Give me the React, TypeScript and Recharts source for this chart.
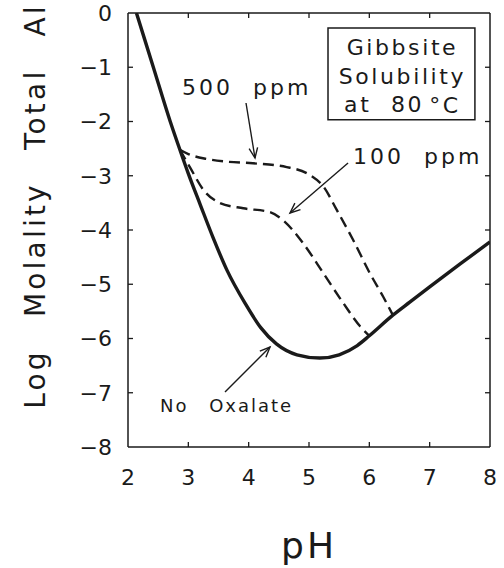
import React from 'react';
import {
  LineChart,
  Line,
  XAxis,
  YAxis,
  Label,
  ReferenceLine,
  ReferenceArea,
  ReferenceDot,
} from 'recharts';

const xTicks = [2, 3, 4, 5, 6, 7, 8];
const yTicks = [0, -1, -2, -3, -4, -5, -6, -7, -8];

// no oxalate (solid)
const noOxPh = [2.14, 2.42, 2.7, 2.86, 3.0, 3.2, 3.41, 3.64, 3.94, 4.2, 4.46, 4.8, 5.18, 5.5, 5.8, 6.0, 6.39, 6.67, 7.0, 7.5, 8.0];
const noOxLog = [0, -1.0, -2.0, -2.52, -2.96, -3.54, -4.14, -4.74, -5.35, -5.8, -6.1, -6.3, -6.36, -6.3, -6.13, -5.95, -5.57, -5.33, -5.05, -4.63, -4.22];

// 500 ppm oxalate (dashed)
const ppm500Ph = [2.86, 3.0, 3.3, 3.64, 4.07, 4.63, 5.02, 5.24, 5.46, 5.73, 6.01, 6.23, 6.39];
const ppm500Log = [-2.52, -2.6, -2.69, -2.74, -2.77, -2.84, -2.99, -3.2, -3.63, -4.18, -4.8, -5.23, -5.57];

// 100 ppm oxalate (dashed)
const ppm100Ph = [2.86, 3.03, 3.25, 3.52, 3.91, 4.35, 4.57, 4.9, 5.24, 5.57, 5.85, 6.0];
const ppm100Log = [-2.52, -2.85, -3.26, -3.5, -3.6, -3.67, -3.82, -4.24, -4.8, -5.35, -5.78, -5.95];

const rows = (ph: number[], v: number[]) => ph.map((p, i) => ({ ph: p, v: v[i] }));

const FONT = '"DejaVu Sans", Verdana, sans-serif';
const INK = '#1a1a1a';
const TICK_IN = 5;

const minus = (v: number) => String(v).replace('-', '\u2212');

// a grid line that only shows its two ends: inward ticks on opposite sides of the frame
function EndTicks(p: any) {
  const { x1, y1, x2, y2 } = p;
  const len = Math.hypot(x2 - x1, y2 - y1) || 1;
  const ux = ((x2 - x1) / len) * TICK_IN;
  const uy = ((y2 - y1) / len) * TICK_IN;
  return (
    <g>
      <line x1={x1} y1={y1} x2={x1 + ux} y2={y1 + uy} stroke={INK} strokeWidth={1.3} />
      <line x1={x2} y1={y2} x2={x2 - ux} y2={y2 - uy} stroke={INK} strokeWidth={1.3} />
    </g>
  );
}

function Arrow(props: any) {
  const { x1, y1, x2, y2 } = props;
  const a = Math.atan2(y2 - y1, x2 - x1);
  const len = 11;
  const spread = 0.4;
  const ax = x2 - len * Math.cos(a - spread);
  const ay = y2 - len * Math.sin(a - spread);
  const bx = x2 - len * Math.cos(a + spread);
  const by = y2 - len * Math.sin(a + spread);
  return (
    <g>
      <line x1={x1} y1={y1} x2={x2} y2={y2} stroke={INK} strokeWidth={1.4} />
      <polyline points={`${ax},${ay} ${x2},${y2} ${bx},${by}`} fill="none" stroke={INK} strokeWidth={1.4} />
    </g>
  );
}

const note = (text: string, size: number, ls: number, ws: number) => (p: any) => (
  <text
    x={p.cx}
    y={p.cy}
    dominantBaseline="central"
    fontFamily={FONT}
    fontSize={size}
    letterSpacing={ls}
    wordSpacing={ws}
    fill={INK}
  >
    {text}
  </text>
);

function BoxText(p: any) {
  const { x, y, width } = p.viewBox;
  const cx = x + width / 2 + 1;
  const common = {
    x: cx,
    textAnchor: 'middle' as const,
    dominantBaseline: 'central' as const,
    fontFamily: FONT,
    fontSize: 22,
    letterSpacing: 2.6,
    fill: INK,
  };
  return (
    <g>
      <text {...common} y={y + 20}>Gibbsite</text>
      <text {...common} y={y + 48.5}>Solubility</text>
      <text {...common} y={y + 77} wordSpacing={10}>
        at 80<tspan dx={5}>{'\u00b0C'}</tspan>
      </text>
    </g>
  );
}

const frame = { stroke: INK, strokeWidth: 1.5 };
const tickStyle = { fontSize: 22, fill: INK, fontFamily: FONT };

export default function App() {
  return (
    <div style={{ position: 'absolute', left: 0, top: 0, background: '#fff' }}>
      <LineChart width={504} height={568} margin={{ top: 13, right: 14, bottom: 0, left: 0 }}>
        <XAxis
          xAxisId="b"
          dataKey="ph"
          type="number"
          domain={[2, 8]}
          ticks={xTicks}
          allowDataOverflow
          height={121}
          axisLine={frame}
          tickLine={false}
          tickSize={6}
          tickMargin={16}
          tick={tickStyle}
        >
          <Label
            content={() => (
              <text x={309} y={558} textAnchor="middle" fontFamily={FONT} fontSize={36} letterSpacing={3} fill={INK}>
                pH
              </text>
            )}
          />
        </XAxis>
        <YAxis
          yAxisId="l"
          type="number"
          domain={[-8, 0]}
          ticks={yTicks}
          allowDataOverflow
          width={128}
          axisLine={frame}
          tickLine={false}
          tickSize={6}
          tickMargin={10}
          tick={tickStyle}
          tickFormatter={minus}
        >
          <Label
            content={() => (
              <text
                x={45}
                y={206}
                transform="rotate(-90, 45, 206)"
                textAnchor="middle"
                fontFamily={FONT}
                fontSize={28}
                letterSpacing={3.2}
                wordSpacing={20}
                fill={INK}
              >
                Log Molality Total Al
              </text>
            )}
          />
        </YAxis>

        {/* top and right edges of the frame */}
        <ReferenceLine xAxisId="b" yAxisId="l" y={0} {...frame} />
        <ReferenceLine xAxisId="b" yAxisId="l" x={8} {...frame} />

        {/* inward ticks on all four sides */}
        {xTicks.slice(1, -1).map((t) => (
          <ReferenceLine key={`xt${t}`} xAxisId="b" yAxisId="l" segment={[{ x: t, y: -8 }, { x: t, y: 0 }]} shape={EndTicks} />
        ))}
        {yTicks.slice(1, -1).map((t) => (
          <ReferenceLine key={`yt${t}`} xAxisId="b" yAxisId="l" segment={[{ x: 2, y: t }, { x: 8, y: t }]} shape={EndTicks} />
        ))}

        <Line
          xAxisId="b"
          yAxisId="l"
          data={rows(ppm500Ph, ppm500Log)}
          dataKey="v"
          type="monotone"
          stroke={INK}
          strokeWidth={2.4}
          strokeDasharray="11 6"
          dot={false}
          isAnimationActive={false}
        />
        <Line
          xAxisId="b"
          yAxisId="l"
          data={rows(ppm100Ph, ppm100Log)}
          dataKey="v"
          type="monotone"
          stroke={INK}
          strokeWidth={2.4}
          strokeDasharray="11 6"
          dot={false}
          isAnimationActive={false}
        />
        <Line
          xAxisId="b"
          yAxisId="l"
          data={rows(noOxPh, noOxLog)}
          dataKey="v"
          type="monotone"
          stroke={INK}
          strokeWidth={3.4}
          dot={false}
          isAnimationActive={false}
        />

        <ReferenceArea
          xAxisId="b"
          yAxisId="l"
          x1={5.315}
          x2={7.75}
          y1={-0.276}
          y2={-1.97}
          fill="#fff"
          fillOpacity={1}
          stroke={INK}
          strokeWidth={1.5}
          label={<BoxText />}
        />

        <ReferenceDot xAxisId="b" yAxisId="l" x={2.895} y={-1.38} r={0} shape={note('500 ppm', 22, 3, 10)} />
        <ReferenceDot xAxisId="b" yAxisId="l" x={5.73} y={-2.654} r={0} shape={note('100 ppm', 22, 3, 10)} />
        <ReferenceDot xAxisId="b" yAxisId="l" x={2.53} y={-7.226} r={0} shape={note('No Oxalate', 18, 2, 13)} />

        <ReferenceLine
          xAxisId="b"
          yAxisId="l"
          segment={[{ x: 3.956, y: -1.659 }, { x: 4.105, y: -2.673 }]}
          shape={Arrow}
        />
        <ReferenceLine
          xAxisId="b"
          yAxisId="l"
          segment={[{ x: 5.647, y: -2.765 }, { x: 4.685, y: -3.687 }]}
          shape={Arrow}
        />
        <ReferenceLine
          xAxisId="b"
          yAxisId="l"
          segment={[{ x: 3.608, y: -6.986 }, { x: 4.354, y: -6.157 }]}
          shape={Arrow}
        />
      </LineChart>
    </div>
  );
}
